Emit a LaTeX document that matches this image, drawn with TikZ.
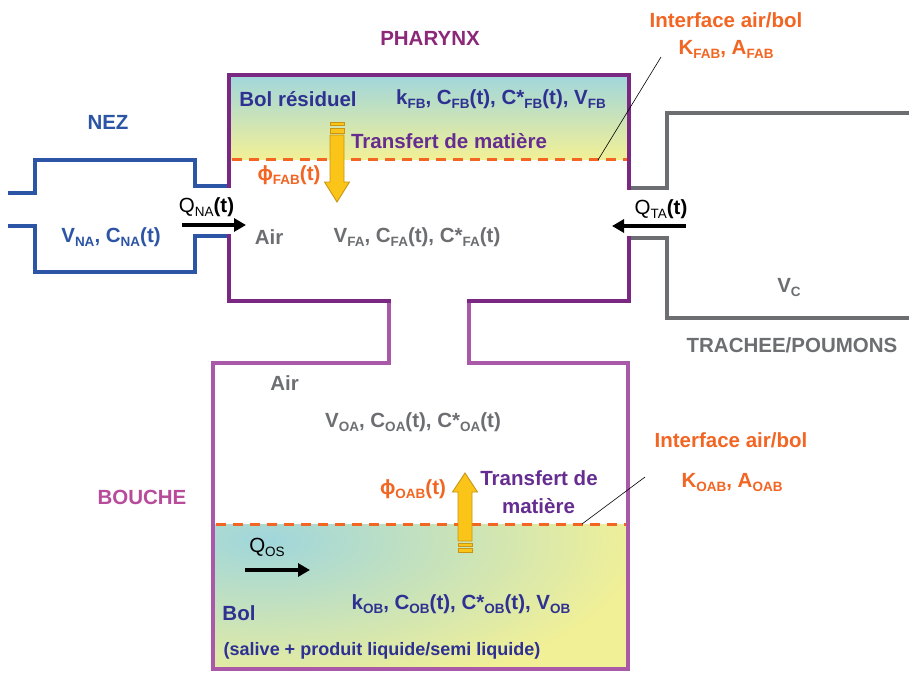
\documentclass[tikz,border=0pt]{standalone}
\usepackage{fontspec}
\setmainfont{Liberation Sans}
\usetikzlibrary{arrows.meta}
\definecolor{noseblue}{RGB}{45,85,165}
\definecolor{txtblue}{RGB}{46,49,146}
\definecolor{pharpurple}{RGB}{123,40,130}
\definecolor{mouthpink}{RGB}{170,88,168}
\definecolor{pharytxt}{RGB}{140,40,120}
\definecolor{bouchetxt}{RGB}{185,75,155}
\definecolor{orng}{RGB}{242,101,34}
\definecolor{gry}{RGB}{109,110,113}
\definecolor{trpurple}{RGB}{102,45,145}
\definecolor{arrowy}{RGB}{250,196,24}
\definecolor{arrowd}{RGB}{200,150,20}
\definecolor{tealc}{RGB}{160,214,220}
\definecolor{yelc}{RGB}{242,240,150}
\newcommand\sbs[1]{\raisebox{-0.22em}{\fontsize{13.5}{14}\selectfont #1}}
\begin{document}
\begin{tikzpicture}[x=1pt,y=-1pt,
  txt/.style={inner sep=0pt, anchor=base, font=\fontsize{20.5}{24}\selectfont\bfseries},
  smalltxt/.style={inner sep=0pt, anchor=base, font=\fontsize{18}{22}\selectfont\bfseries},
  wall/.style={line width=3.5pt, line join=miter, line cap=rect},
  flow/.style={line width=4pt, -{Triangle[length=12pt,width=13pt]}},
  leader/.style={line width=0.6pt, black},
  interface/.style={orng, line width=3pt, dash pattern=on 10pt off 7pt},
  blockarrow/.style={fill=arrowy, draw=arrowd, line width=0.9pt}]
\useasboundingbox (0,0) rectangle (909,673);
\fill[white] (0,0) rectangle (909,673);

% fills
\shade[top color=tealc, bottom color=yelc] (229,75) rectangle (629,159);
\begin{scope}
  \clip (213,524) rectangle (628,669);
  \fill[yelc] (213,524) rectangle (628,669);
  \shade[inner color=tealc, outer color=yelc] (265,540) ellipse (380 and 160);
\end{scope}

% interfaces
\draw[interface] (232,159) -- (627,159);
\draw[interface] (216,524) -- (626,524);

% nose
\draw[wall, noseblue] (10,193) -- (35,193) -- (35,160) -- (195,160) -- (195,186) -- (229,186);
\draw[wall, noseblue] (10,226) -- (35,226) -- (35,272) -- (195,272) -- (195,236) -- (229,236);

% trachea
\draw[wall, gry] (629,188) -- (667,188) -- (667,113) -- (912,113);
\draw[wall, gry] (629,238) -- (667,238) -- (667,318) -- (912,318);

% mouth
\draw[wall, mouthpink] (389,301) -- (389,363) -- (213,363) -- (213,669) -- (628,669) -- (628,363) -- (469,363) -- (469,301);

% pharynx
\draw[wall, pharpurple] (229,186) -- (229,75) -- (629,75) -- (629,188);
\draw[wall, pharpurple] (629,238) -- (629,301) -- (469,301);
\draw[wall, pharpurple] (389,301) -- (229,301) -- (229,236);

% yellow block arrows
\filldraw[blockarrow] (330,135) -- (344,135) -- (344,182) -- (349.5,182) -- (337,202) -- (324.5,182) -- (330,182) -- cycle;
\filldraw[blockarrow] (330,122.5) rectangle (344,125.5);
\filldraw[blockarrow] (330,128) rectangle (344,133);
\filldraw[blockarrow] (458,541) -- (472,541) -- (472,492) -- (477.5,492) -- (465,473) -- (452.5,492) -- (458,492) -- cycle;
\filldraw[blockarrow] (458,543) rectangle (472,546.5);
\filldraw[blockarrow] (458,548.5) rectangle (472,552);

% titles
\node[txt, pharytxt] (pharynx) at (430,45) {PHARYNX};
\node[txt, noseblue] (nez) at (108,129) {NEZ};
\node[txt, bouchetxt] (bouche) at (142,504) {BOUCHE};
\node[txt, gry] (trachee) at (792,352) {TRACHEE/POUMONS};

% pharynx texts
\node[txt, txtblue] (bolres) at (298,106) {Bol résiduel};
\node[txt, txtblue] (kfb) at (501,104) {k\sbs{FB}, C\sbs{FB}(t), C*\sbs{FB}(t), V\sbs{FB}};
\node[txt, trpurple] (transf1) at (449,148) {Transfert de matière};
\node[txt, orng] (phifab) at (289,180) {ϕ\sbs{FAB}(t)};
\node[txt, gry] (air1) at (269,244) {Air};
\node[txt, gry] (vfa) at (417,242) {V\sbs{FA}, C\sbs{FA}(t), C*\sbs{FA}(t)};

% interface top
\node[txt, orng] (int1) at (726,27) {Interface air/bol};
\node[txt, orng] (kfab) at (726,54) {K\sbs{FAB}, A\sbs{FAB}};
\coordinate (lead1a) at (598,160);
\coordinate (lead1b) at (661,57);
\draw[leader] (lead1a) -- (lead1b);

% nose texts
\node[txt, noseblue] (vna) at (111,242) {V\sbs{NA}, C\sbs{NA}(t)};
\node[txt, black] (qna) at (206.5,212) {\mdseries Q\sbs{NA}\bfseries(t)};
\coordinate (qna1) at (182,225);
\coordinate (qna2) at (246,225);
\draw[flow] (qna1) -- (qna2);

% trachea texts
\node[txt, black] (qta) at (661,214) {\mdseries Q\sbs{TA}\bfseries(t)};
\coordinate (qta1) at (686,226);
\coordinate (qta2) at (612,226);
\draw[flow] (qta1) -- (qta2);
\node[txt, gry] (vc) at (789,292) {V\sbs{C}};

% mouth texts
\node[txt, gry] (air2) at (284.5,390) {Air};
\node[txt, gry] (voa) at (413,427) {V\sbs{OA}, C\sbs{OA}(t), C*\sbs{OA}(t)};
\node[txt, orng] (phioab) at (413,494) {ϕ\sbs{OAB}(t)};
\node[txt, trpurple] (transf2a) at (539,485) {Transfert de};
\node[txt, trpurple] (transf2b) at (538.5,513) {matière};
\node[txt, orng] (int2) at (731,447) {Interface air/bol};
\node[txt, orng] (koab) at (732,487) {K\sbs{OAB}, A\sbs{OAB}};
\coordinate (lead2a) at (582,524);
\coordinate (lead2b) at (645,477);
\draw[leader] (lead2a) -- (lead2b);

\node[txt, black] (qos) at (267,552) {\mdseries Q\sbs{OS}};
\coordinate (qos1) at (245,570);
\coordinate (qos2) at (310,570);
\draw[flow] (qos1) -- (qos2);
\node[txt, txtblue] (kob) at (461,609) {k\sbs{OB}, C\sbs{OB}(t), C*\sbs{OB}(t), V\sbs{OB}};
\node[txt, txtblue] (bol) at (239,620) {Bol};
\node[smalltxt, txtblue] (salive) at (382,655) {(salive + produit liquide/semi liquide)};
\end{tikzpicture}
\end{document}
